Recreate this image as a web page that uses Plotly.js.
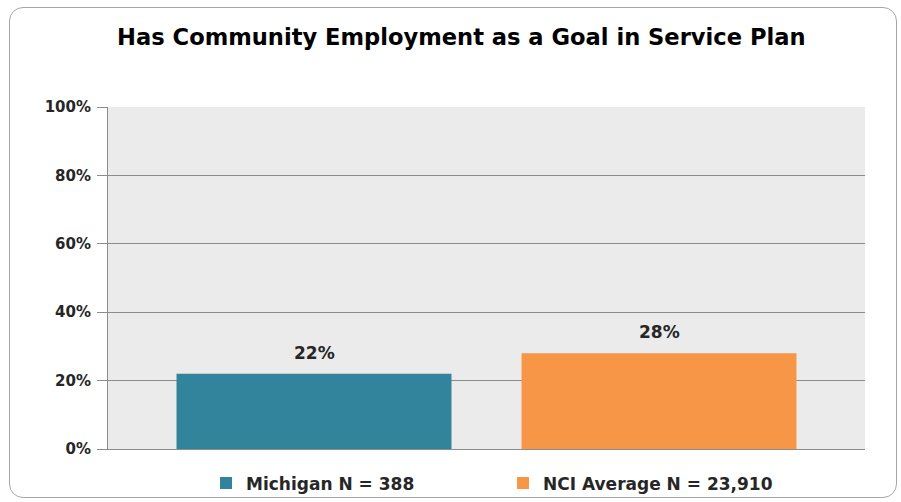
<!DOCTYPE html>
<html>
<head>
<meta charset="utf-8">
<script src="https://cdn.plot.ly/plotly-3.0.1.min.js"></script>
<style>
  html, body { margin: 0; padding: 0; background: #ffffff; }
  #frame { position: absolute; left: 9px; top: 7px; width: 888px; height: 491px;
           border: 1px solid #a6a6a6; border-radius: 14px; box-sizing: border-box; }
  #chart { position: absolute; left: 0; top: 0; width: 901px; height: 502px; }
</style>
</head>
<body>
<div id="frame"></div>
<div id="chart"></div>
<script>
const category = ["Has Community Employment as a Goal in Service Plan"];
const seriesNames = ["Michigan N = 388", "NCI Average N = 23,910"];
const michigan = [0.22];
const nciAverage = [0.28];
const seriesColors = ["#31849b", "#f79646"];
const yTickValues = [0, 0.2, 0.4, 0.6, 0.8, 1.0];
const yTickLabels = ["0%", "20%", "40%", "60%", "80%", "100%"];

const FONT = "'DejaVu Sans', sans-serif";
const BARGAP = 0.0885;
const BARGROUPGAP = 0.203;

const seriesValues = [michigan, nciAverage];
const traces = seriesValues.map((vals, i) => ({
  type: "bar", name: seriesNames[i], x: category, y: vals,
  marker: { color: seriesColors[i] },
  hoverinfo: "none"
}));

// data labels placed above each grouped bar (center of each bar slot in category units)
const slot = (1 - BARGAP) / 2;
const annotations = [];
seriesValues.forEach((vals, i) => {
  vals.forEach((v, j) => {
    annotations.push({
      xref: "x", yref: "y",
      x: j - (1 - BARGAP) / 2 + slot * (i + 0.5),
      y: v,
      text: "<b>" + Math.round(v * 100) + "%</b>",
      showarrow: false, yanchor: "bottom", xanchor: "center", yshift: 9,
      font: { family: FONT, size: 17, color: "#262626" }
    });
  });
});

const layout = {
  width: 901, height: 502,
  paper_bgcolor: "rgba(0,0,0,0)",
  plot_bgcolor: "#ebebeb",
  margin: { l: 108, r: 36, t: 107, b: 53, pad: 0, autoexpand: false },
  title: {
    text: "<b>Has Community Employment as a Goal in Service Plan</b>",
    font: { family: FONT, size: 22.6, color: "#000000" },
    x: 0.512, xanchor: "center", y: 0.927, yanchor: "middle"
  },
  barmode: "group",
  bargap: BARGAP,
  bargroupgap: BARGROUPGAP,
  showlegend: true,
  legend: {
    orientation: "h", x: 0.1295, xanchor: "left",
    yref: "container", y: 0.037, yanchor: "middle",
    font: { family: FONT, size: 17, color: "#262626", weight: 700 },
    traceorder: "normal", itemclick: false, itemdoubleclick: false,
    entrywidth: 252
  },
  annotations: annotations,
  xaxis: {
    showticklabels: false, ticks: "", showgrid: false, zeroline: false,
    showline: true, linecolor: "#8c8c8c", linewidth: 1, fixedrange: true
  },
  yaxis: {
    range: [0, 1], tickvals: yTickValues, ticktext: yTickLabels,
    tickfont: { family: FONT, size: 15, color: "#262626", weight: 700 },
    ticks: "outside", ticklen: 10, tickcolor: "#8c8c8c",
    ticklabelstandoff: 3,
    showgrid: true, gridcolor: "#8c8c8c", gridwidth: 1,
    zeroline: false, showline: true, linecolor: "#8c8c8c", linewidth: 1,
    fixedrange: true
  }
};

Plotly.newPlot("chart", traces, layout, { displayModeBar: false, staticPlot: true });
</script>
</body>
</html>
